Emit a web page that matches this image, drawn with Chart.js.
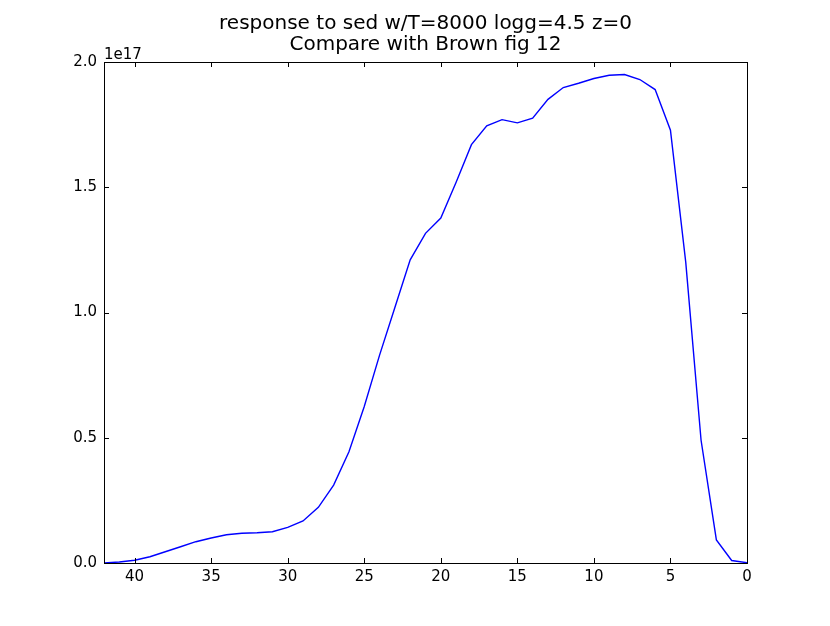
<!DOCTYPE html>
<html>
<head>
<meta charset="utf-8">
<script src="https://cdn.jsdelivr.net/npm/chart.js@4.4.1/dist/chart.umd.min.js"></script>
<style>
    body { margin: 0; background: #fff; }
    #wrap { width: 830px; height: 626px; }
</style>
</head>
<body>
<div id="wrap"><canvas id="chartResponse"></canvas></div>
<script>
// x positions (reversed axis, 42 -> 0)
var xValeurs = [42, 41, 40, 39, 38, 37, 36, 35, 34, 33, 32, 31, 30, 29, 28, 27, 26, 25, 24, 23, 22,
    21, 20, 19, 18, 17, 16, 15, 14, 13, 12, 11, 10, 9, 8, 7, 6, 5, 4, 3, 2, 1, 0];
// response, in units of 1e17
var reponse = [0.0, 0.004, 0.011, 0.025, 0.045, 0.065, 0.085, 0.10, 0.113, 0.119, 0.121, 0.125, 0.142, 0.168, 0.222, 0.311,
    0.444, 0.625, 0.83, 1.02, 1.21, 1.316, 1.377, 1.52, 1.67, 1.745, 1.77, 1.757, 1.776, 1.851, 1.898,
    1.915, 1.934, 1.947, 1.95, 1.93, 1.89, 1.728, 1.20, 0.49, 0.092, 0.01, 0.001];
var xTicks = [40, 35, 30, 25, 20, 15, 10, 5, 0];
var yTicks = [0, 0.5, 1.0, 1.5, 2.0];
var titre = ['response to sed w/T=8000 logg=4.5 z=0', 'Compare with Brown fig 12'];
var offsetTexte = '1e17';

var points = [];
for (var i = 0; i < xValeurs.length; i++) {
    points.push({x: xValeurs[i], y: reponse[i]});
}

// matplotlib-like frame with inward ticks on the four sides, title centred on the axes
var cadrePlugin = {
    id: 'cadre',
    afterDraw: function (chart) {
        var ctx = chart.ctx;
        var a = chart.chartArea;
        var sx = chart.scales.x;
        var sy = chart.scales.y;
        var t = 5;
        ctx.save();
        ctx.strokeStyle = '#000';
        ctx.lineWidth = 1;
        ctx.beginPath();
        for (var i = 0; i < xTicks.length; i++) {
            var px = Math.round(sx.getPixelForValue(xTicks[i])) + 0.5;
            ctx.moveTo(px, a.bottom);
            ctx.lineTo(px, a.bottom - t);
            ctx.moveTo(px, a.top);
            ctx.lineTo(px, a.top + t);
        }
        for (var j = 0; j < yTicks.length; j++) {
            var py = Math.round(sy.getPixelForValue(yTicks[j])) + 0.5;
            ctx.moveTo(a.left, py);
            ctx.lineTo(a.left + t, py);
            ctx.moveTo(a.right, py);
            ctx.lineTo(a.right - t, py);
        }
        ctx.stroke();
        ctx.strokeRect(Math.round(a.left) + 0.5, Math.round(a.top) + 0.5,
            Math.round(a.right - a.left), Math.round(a.bottom - a.top));

        ctx.fillStyle = '#000';
        // offset label of the y axis
        ctx.font = '15px "DejaVu Sans"';
        ctx.textAlign = 'left';
        ctx.textBaseline = 'alphabetic';
        ctx.fillText(offsetTexte, a.left, a.top - 3);
        // title
        ctx.font = '20px "DejaVu Sans"';
        ctx.textAlign = 'center';
        var cx = (a.left + a.right) / 2;
        ctx.fillText(titre[0], cx, 29);
        ctx.fillText(titre[1], cx, 50);
        ctx.restore();
    }
};

var ctx = document.getElementById('chartResponse').getContext('2d');
var chart = new Chart(ctx, {
    type: 'line',
    data: {
        datasets: [{
            data: points,
            borderColor: '#0000ff',
            borderWidth: 1.4,
            pointRadius: 0,
            tension: 0,
            fill: false
        }]
    },
    options: {
        responsive: true,
        maintainAspectRatio: false,
        animation: false,
        layout: {
            padding: {left: 0, right: 83, top: 62, bottom: 0}
        },
        plugins: {
            legend: {display: false},
            tooltip: {enabled: false},
            title: {display: false}
        },
        scales: {
            x: {
                type: 'linear',
                reverse: true,
                min: 0,
                max: 42,
                grid: {display: false, drawTicks: false},
                border: {display: false},
                afterBuildTicks: function (axis) {
                    axis.ticks = xTicks.map(function (v) { return {value: v}; });
                },
                afterFit: function (axis) {
                    axis.height = 63;
                },
                ticks: {
                    color: '#000',
                    padding: 5,
                    maxRotation: 0,
                    font: {family: 'DejaVu Sans', size: 15},
                    callback: function (v) { return String(v); }
                }
            },
            y: {
                min: 0,
                max: 2.0,
                grid: {display: false, drawTicks: false},
                border: {display: false},
                afterBuildTicks: function (axis) {
                    axis.ticks = yTicks.map(function (v) { return {value: v}; });
                },
                afterFit: function (axis) {
                    axis.width = 104;
                },
                ticks: {
                    color: '#000',
                    padding: 7,
                    font: {family: 'DejaVu Sans', size: 15},
                    callback: function (v) { return v.toFixed(1); }
                }
            }
        }
    },
    plugins: [cadrePlugin]
});
</script>
</body>
</html>
